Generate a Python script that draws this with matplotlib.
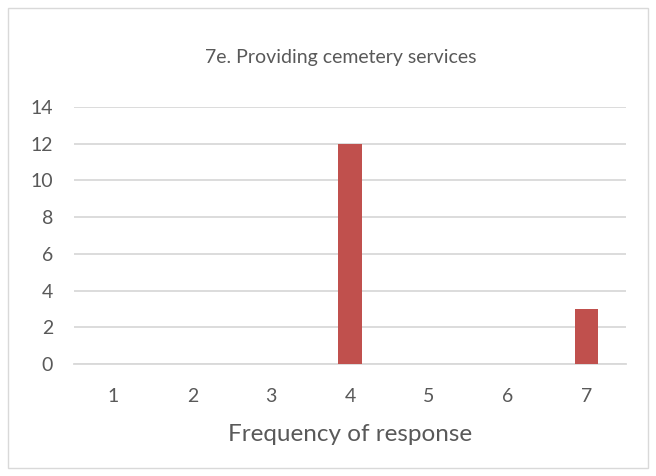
import matplotlib.pyplot as plt
from matplotlib.patches import Rectangle

# Frequency of response (1-7) and count of responses
categories = ['1', '2', '3', '4', '5', '6', '7']
counts = [0, 0, 0, 12, 0, 0, 3]
y_ticks = [0, 2, 4, 6, 8, 10, 12, 14]

title = '7e. Providing cemetery services'
x_label = 'Frequency of response'

bar_color = '#C0504D'
grid_color = '#D9D9D9'
text_color = '#595959'

plt.rcParams['font.family'] = ['Lato', 'DejaVu Sans']

fig = plt.figure(figsize=(6.56, 4.76), dpi=100)
fig.patch.set_facecolor('white')

# chart border
fig.patches.append(Rectangle((8 / 656, 8 / 476), 640 / 656, 460 / 476,
                             transform=fig.transFigure, fill=False,
                             edgecolor='#D9D9D9', linewidth=1))

ax = fig.add_axes([74 / 656, (476 - 364) / 476, 552 / 656, (364 - 107) / 476])

x = list(range(len(categories)))
ax.bar(x, counts, width=0.3, color=bar_color, zorder=3)

ax.set_xlim(-0.5, len(categories) - 0.5)
ax.set_ylim(0, 14)
ax.set_yticks(y_ticks)
ax.set_xticks(x)
ax.set_xticklabels(categories)

ax.yaxis.grid(True, color=grid_color, linewidth=1.3, zorder=0)
ax.set_axisbelow(True)
for s in ['top', 'right', 'left']:
    ax.spines[s].set_visible(False)
ax.spines['bottom'].set_color(grid_color)
ax.spines['bottom'].set_linewidth(1.3)

ax.tick_params(axis='both', length=0, colors=text_color, labelsize=14)
ax.tick_params(axis='x', pad=17)
ax.tick_params(axis='y', pad=15)

ax.set_xlabel(x_label, fontsize=17.5, color=text_color, labelpad=14)
fig.text(341 / 656, (476 - 58) / 476, title, ha='center', va='center',
         fontsize=14, color=text_color)

fig.savefig('out.png', dpi=100)
